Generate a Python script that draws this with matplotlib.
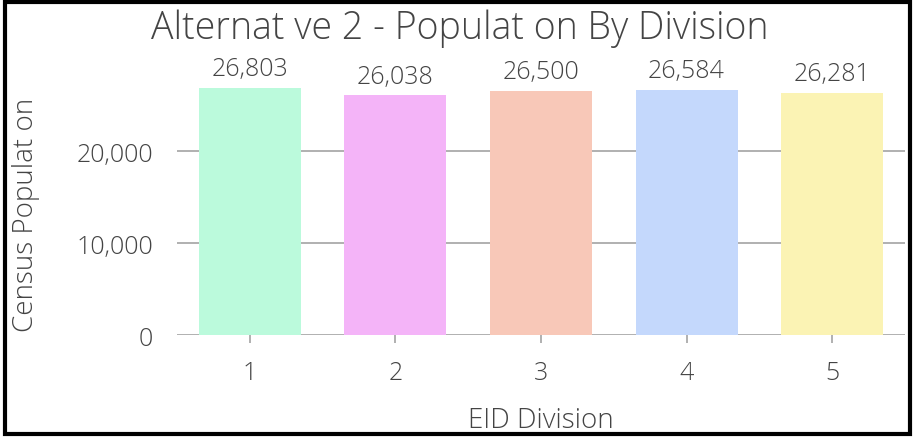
import matplotlib.pyplot as plt
from matplotlib.patches import Rectangle

divisions = [1, 2, 3, 4, 5]
population = [26803, 26038, 26500, 26584, 26281]
bar_colors = ["#bbfadc", "#f4b4f8", "#f8c8b8", "#c4d8fc", "#fbf3b4"]

plt.rcParams["font.family"] = ["Open Sans", "DejaVu Sans"]
plt.rcParams["font.weight"] = "light"
plt.rcParams["axes.labelweight"] = "light"
text_color = "#444444"

fig = plt.figure(figsize=(9.15, 4.39), dpi=100)
ax = fig.add_axes([0.1934, 0.2346, 0.7956, 0.6287])

bars = ax.bar(divisions, population, width=0.7, color=bar_colors, zorder=3)
for b, v in zip(bars, population):
    ax.annotate(f"{v:,}", (b.get_x() + b.get_width() / 2, v), xytext=(0, 5),
                textcoords="offset points", ha="center", va="bottom",
                fontsize=18, color=text_color)

ax.set_xlim(0.5, 5.5)
ax.set_ylim(0, 30000)
ax.set_xticks(divisions)
ax.set_yticks([0, 10000, 20000])
ax.set_yticklabels([f"{t:,}" for t in [0, 10000, 20000]])
ax.grid(axis="y", color="#aaaaaa", linewidth=1.3, zorder=0)
for s in ["top", "right", "left", "bottom"]:
    ax.spines[s].set_visible(False)
ax.tick_params(axis="y", length=0, pad=17, labelsize=18, labelcolor=text_color)
ax.tick_params(axis="x", length=6, width=1.3, color="#aaaaaa", pad=12,
               labelsize=18, labelcolor=text_color)

ax.set_xlabel("EID Division", fontsize=20, color=text_color, labelpad=15)
ax.set_ylabel("Census Populat on", fontsize=20, color=text_color)
ax.yaxis.set_label_coords(-0.188, 0.44)
fig.text(0.503, 0.935, "Alternat ve 2 - Populat on By Division", ha="center",
         va="center", fontsize=27, color=text_color)

fig.patches.append(Rectangle((0.006, 0.008), 0.988, 0.985, transform=fig.transFigure,
                             fill=False, edgecolor="black", linewidth=3))

fig.savefig("out.png", dpi=100)
